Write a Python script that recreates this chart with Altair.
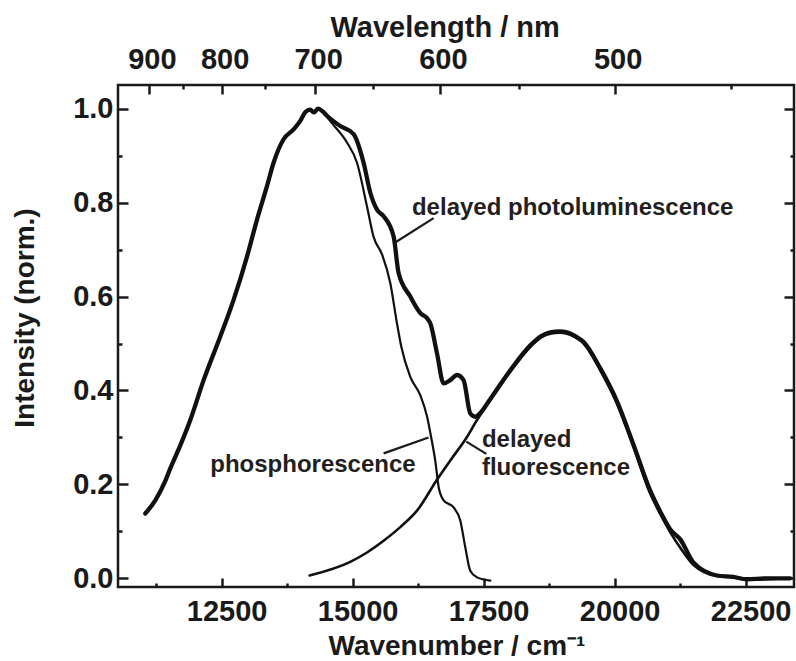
import altair as alt
import pandas as pd

# ---------------- data ----------------
# delayed photoluminescence (thick)
dpl_wn = [11044, 11235, 11428, 11521, 11712, 11903, 12157, 12475, 12729, 12985,
          13176, 13366, 13492, 13683, 13874, 14002, 14100, 14190, 14260, 14340,
          14420, 14511, 14765, 15019, 15210, 15338, 15466, 15592, 15783, 15878,
          16101, 16292, 16420, 16483, 16611, 16737, 16865, 16992, 17118, 17246,
          17342, 17420, 17628, 18010, 18392, 18600, 18774, 18950, 19092, 19250,
          19409, 19728, 20046, 20363, 20682, 20872, 21063, 21254, 21508, 21954,
          22265, 22527, 22900, 23350]
dpl_val = [0.138, 0.166, 0.208, 0.234, 0.283, 0.337, 0.422, 0.515, 0.593, 0.685,
           0.764, 0.835, 0.885, 0.935, 0.956, 0.974, 0.993, 0.998, 0.992, 1.000,
           0.995, 0.985, 0.963, 0.946, 0.885, 0.821, 0.785, 0.771, 0.728, 0.650,
           0.600, 0.565, 0.554, 0.543, 0.479, 0.415, 0.422, 0.433, 0.422, 0.351,
           0.344, 0.350, 0.382, 0.443, 0.496, 0.516, 0.524, 0.526, 0.524, 0.516,
           0.503, 0.447, 0.377, 0.284, 0.186, 0.142, 0.104, 0.083, 0.033, 0.006,
           0.003, -0.002, 0.000, 0.000]

# phosphorescence (thin)
ph_wn = [11044, 11235, 11428, 11521, 11712, 11903, 12157, 12475, 12729, 12985,
         13176, 13366, 13492, 13683, 13874, 14002, 14100, 14190, 14260, 14340,
         14420, 14511, 14637, 14893, 15084, 15275, 15401, 15561, 15719, 15847,
         15930, 16101, 16292, 16420, 16500, 16578, 16643, 16737, 16928, 17055,
         17151, 17246, 17374, 17628]
ph_val = [0.138, 0.166, 0.208, 0.234, 0.283, 0.337, 0.422, 0.515, 0.593, 0.685,
          0.764, 0.835, 0.885, 0.935, 0.956, 0.974, 0.993, 0.998, 0.992, 1.000,
          0.995, 0.982, 0.965, 0.928, 0.885, 0.792, 0.727, 0.690, 0.629, 0.543,
          0.493, 0.429, 0.390, 0.345, 0.300, 0.250, 0.194, 0.166, 0.151, 0.123,
          0.066, 0.016, 0.002, -0.005]

# delayed fluorescence (medium)
df_wn = [14179, 14956, 15275, 15592, 15910, 16229, 16622, 16865, 17183, 17374,
         17628, 18010, 18392, 18600, 18774, 18950, 19092, 19250, 19409, 19728,
         20046, 20363, 20682, 20872, 21063, 21254, 21508, 21954, 22265, 22527,
         22900, 23350]
df_val = [0.006, 0.035, 0.055, 0.080, 0.109, 0.144, 0.212, 0.251, 0.301, 0.337,
          0.379, 0.440, 0.493, 0.513, 0.521, 0.523, 0.521, 0.513, 0.500, 0.443,
          0.372, 0.279, 0.180, 0.137, 0.098, 0.065, 0.028, 0.005, 0.002, -0.003,
          -0.002, 0.000]

# annotation texts
ann_text = ["delayed photoluminescence", "phosphorescence", "delayed", "fluorescence"]
ann_wn = [16133, 12284, 17469, 17469]
ann_val = [0.774, 0.227, 0.280, 0.221]

# leader lines (start, end)
lead_id = ["dpl", "dpl", "ph", "ph", "df", "df"]
lead_wn = [16546, 15782, 15592, 16450, 17170, 17552]
lead_val = [0.767, 0.713, 0.266, 0.300, 0.291, 0.265]

# axis ticks
x_major = [12500, 15000, 17500, 20000, 22500]
x_minor = [11250, 13750, 16250, 18750, 21250]
y_major = [0.0, 0.2, 0.4, 0.6, 0.8, 1.0]
y_minor = [0.1, 0.3, 0.5, 0.7, 0.9]
wl_major = [900, 800, 700, 600, 500]
wl_minor = [850, 750, 650, 550, 450]

# ---------------- tables ----------------
rows = []
for s, w, xs, ys in [("dpl", 4.3, dpl_wn, dpl_val), ("ph", 2.2, ph_wn, ph_val), ("df", 2.6, df_wn, df_val)]:
    for a, b in zip(xs, ys):
        rows.append({"series": s, "w": w, "wn": a, "val": b})
curves_df = pd.DataFrame(rows)
ann_df = pd.DataFrame({"label": ann_text, "wn": ann_wn, "val": ann_val})
lead_df = pd.DataFrame({"id": lead_id, "wn": lead_wn, "val": lead_val,
                        "o": list(range(len(lead_id)))})

FONT = "Liberation Sans"
INK = "#1a1a1a"
x_scale = alt.Scale(domain=[10523, 23424], nice=False, zero=False)
y_scale = alt.Scale(domain=[-0.0185, 1.0505], nice=False, zero=False)

common = dict(domain=False, grid=False, tickColor=INK, tickWidth=2.5,
              labelFont=FONT, labelFontSize=29, labelFontWeight="bold", labelColor=INK,
              titleFont=FONT, titleFontSize=29, titleFontWeight="bold", titleColor=INK)

bottom_common = dict(common)
bottom_common["titleFontSize"] = 28
ax_bottom = alt.Axis(orient="bottom", values=x_major, format="d", offset=-9, tickSize=9,
                     labelPadding=10, labelOffset=5, title="Wavenumber / cm⁻¹",
                     titleAlign="left", titleBaseline="alphabetic", titleX=210, titleY=76,
                     **bottom_common)
ax_bottom_minor = alt.Axis(orient="bottom", values=x_minor, offset=-4, tickSize=4,
                           labels=False, title=None, **common)
ax_top = alt.Axis(orient="top", values=[1e7 / v for v in wl_major],
                  labelExpr="format(10000000 / datum.value, '.0f')",
                  offset=-9, tickSize=9, labelPadding=11, labelOffset=3,
                  title="Wavelength / nm", titleAlign="left", titleBaseline="alphabetic",
                  titleX=212, titleY=-58, **common)
ax_top_minor = alt.Axis(orient="top", values=[1e7 / v for v in wl_minor], offset=-4,
                        tickSize=4, labels=False, title=None, **common)
left_common = dict(common)
left_common["titleFontSize"] = 28
ax_left = alt.Axis(orient="left", values=y_major, format=".1f", offset=-10, tickSize=10,
                   labelPadding=5, title="Intensity (norm.)", titleAngle=270,
                   titleAlign="center", titleBaseline="alphabetic", titleX=-94.5, titleY=232.5,
                   **left_common)
ax_left_minor = alt.Axis(orient="left", values=y_minor, offset=-4, tickSize=4,
                         labels=False, title=None, **common)
ax_right = alt.Axis(orient="right", values=y_major, offset=-10, tickSize=10,
                    labels=False, title=None, **common)
ax_right_minor = alt.Axis(orient="right", values=y_minor, offset=-4, tickSize=4,
                          labels=False, title=None, **common)

curves = alt.Chart(curves_df).mark_line(color="#111111", strokeJoin="round",
                                        strokeCap="round", interpolate="monotone").encode(
    x=alt.X("wn:Q", scale=x_scale, axis=ax_bottom),
    y=alt.Y("val:Q", scale=y_scale, axis=ax_left),
    detail="series:N",
    strokeWidth=alt.StrokeWidth("w:Q", scale=None),
)

leaders = alt.Chart(lead_df).mark_line(color=INK, strokeWidth=2.2).encode(
    x=alt.X("wn:Q", scale=x_scale, axis=ax_bottom_minor),
    y=alt.Y("val:Q", scale=y_scale, axis=ax_left_minor),
    detail="id:N",
    order="o:Q",
)

texts = alt.Chart(ann_df).mark_text(align="left", baseline="alphabetic", font=FONT,
                                    fontSize=24, fontWeight="bold", color="#231f20").encode(
    x=alt.X("wn:Q", scale=x_scale, axis=ax_top),
    y=alt.Y("val:Q", scale=y_scale, axis=ax_right),
    text="label:N",
)

ghost = alt.Chart(ann_df).mark_point(opacity=0).encode(
    x=alt.X("wn:Q", scale=x_scale, axis=ax_top_minor),
    y=alt.Y("val:Q", scale=y_scale, axis=ax_right_minor),
)

chart = alt.layer(curves, leaders, texts, ghost).resolve_scale(
    x="shared", y="shared").resolve_axis(x="independent", y="independent").properties(
    width=676, height=502,
    autosize=alt.AutoSizeParams(type="none"),
    padding={"left": 118, "top": 85, "right": 2, "bottom": 74},
    background="white",
).configure_view(stroke=INK, strokeWidth=2.5)

chart.save("out.html", embed_options={"renderer": "svg", "actions": False})
